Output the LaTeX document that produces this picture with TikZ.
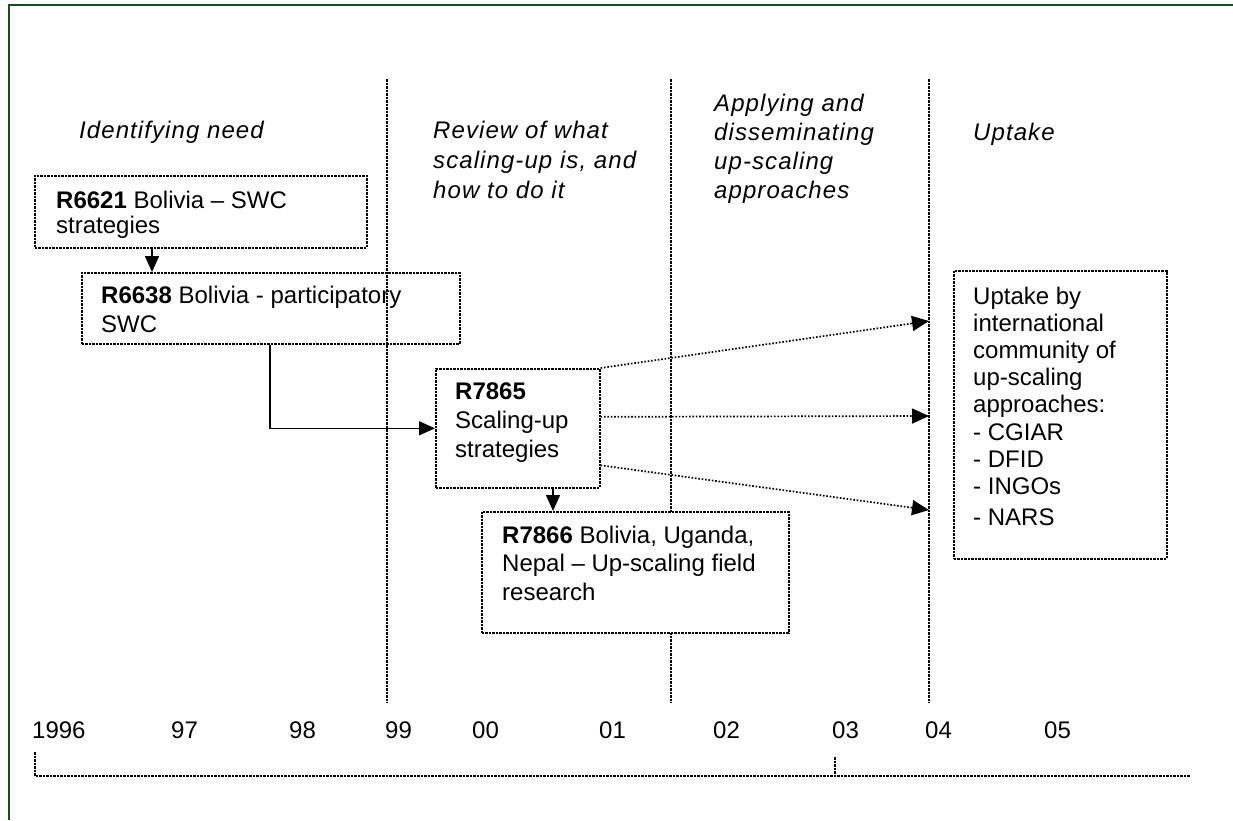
\documentclass[tikz,border=0pt]{standalone}
\usepackage{fontspec}
\setmainfont{Liberation Sans}
\newfontfamily\headfont[LetterSpace=4.5]{Liberation Sans}
\usetikzlibrary{arrows.meta}
\definecolor{framegreen}{RGB}{30,75,30}
\newcommand{\mylines}[1]{\begin{tabular}[t]{@{}l@{}}#1\end{tabular}}
\begin{document}
\begin{tikzpicture}[x=1pt,y=-1pt,
  every node/.style={font=\fontsize{24}{28}\selectfont, inner sep=0pt},
  frameline/.style={draw=framegreen, line width=2pt},
  divider/.style={draw=black, line width=1.6pt, dash pattern=on 2.5pt off 1pt},
  pbox/.style={draw=black, line width=1.6pt, dash pattern=on 2.5pt off 1pt, rectangle, anchor=north west, inner sep=0pt},
  txt/.style={anchor=base west},
  head/.style={anchor=base west},
  solidarrow/.style={draw=black, line width=1.5pt, -{Triangle[length=16pt,width=14pt]}},
  dotarrow/.style={draw=black, line width=1.7pt, dash pattern=on 1.6pt off 1.8pt, -{Triangle[length=17pt,width=15pt]}},
]
\useasboundingbox (0,0) rectangle (1233,820);
% frame
\draw[frameline] (9,820) -- (9,5) -- (1233,5);

% dividers
\coordinate (d1t) at (387,79); \coordinate (d1b) at (387,703);
\coordinate (d2t) at (671,79); \coordinate (d2b) at (671,703);
\coordinate (d3t) at (929,79); \coordinate (d3b) at (929,703);
\draw[divider] (d1t) -- (d1b);
\draw[divider] (d2t) -- (d2b);
\draw[divider] (d3t) -- (d3b);

% headings
\node[head, font=\fontsize{24}{30}\selectfont\headfont\itshape] (h1) at (79,138) {Identifying need};
\node[head, font=\fontsize{24}{30}\selectfont\headfont\itshape] (h2) at (433,138) {\mylines{Review of what\\scaling-up is, and\\how to do it}};
\node[head, font=\fontsize{24}{29}\selectfont\headfont\itshape] (h3) at (714,111) {\mylines{Applying and\\disseminating\\up-scaling\\approaches}};
\node[head, font=\fontsize{24}{30}\selectfont\headfont\itshape] (h4) at (973,140) {Uptake};

% boxes
\node[pbox, minimum width=332pt, minimum height=72pt] (r6621) at (34,175) {};
\node[pbox, minimum width=378pt, minimum height=71pt] (r6638) at (81,272) {};
\node[pbox, minimum width=164pt, minimum height=119pt] (r7865) at (435,368) {};
\node[pbox, fill=white, minimum width=307pt, minimum height=121pt] (r7866) at (481,511) {};
\node[pbox, minimum width=213pt, minimum height=288pt] (up) at (953,270) {};

% box texts
\node[txt, font=\fontsize{24}{25}\selectfont] (t6621) at (56,208) {\mylines{\textbf{R6621} Bolivia -- SWC\\strategies}};
\node[txt, font=\fontsize{24}{29}\selectfont] (t6638) at (101,303) {\mylines{\textbf{R6638} Bolivia - participatory\\SWC}};
\node[txt, font=\fontsize{24}{29}\selectfont] (t7865) at (455,399) {\mylines{\textbf{R7865}\\Scaling-up\\strategies}};
\node[txt, font=\fontsize{24}{28.5}\selectfont] (t7866) at (502,543) {\mylines{\textbf{R7866} Bolivia, Uganda,\\Nepal -- Up-scaling field\\research}};
\node[txt, font=\fontsize{24}{27.2}\selectfont] (tup) at (973,304) {\mylines{Uptake by\\international\\community of\\up-scaling\\approaches:\\- CGIAR\\- DFID\\- INGOs\\[4pt]- NARS}};

% connectors
\coordinate (a1) at (152,0);
\coordinate (e1) at (270,0);
\coordinate (a2) at (553,0);
\draw[solidarrow] (r6621.south -| a1) -- (r6638.north -| a1);
\draw[solidarrow] (r6638.south -| e1) |- (r7865.west);
\draw[solidarrow] (r7865.south -| a2) -- (r7866.north -| a2);

\coordinate (p1) at (929,321);
\coordinate (p2) at (929,416);
\coordinate (p3) at (929,510);
\draw[dotarrow] (r7865.north east) -- (p1);
\draw[dotarrow] ([yshift=11.5pt]r7865.east) -- (p2);
\draw[dotarrow] ([yshift=-37pt]r7865.east) -- (p3);

% timeline
\node[txt] (y96) at (32,738) {1996};
\node[txt] (y97) at (171,738) {97};
\node[txt] (y98) at (289,738) {98};
\node[txt] (y99) at (385,738) {99};
\node[txt] (y00) at (472,738) {00};
\node[txt] (y01) at (599,738) {01};
\node[txt] (y02) at (713,738) {02};
\node[txt] (y03) at (832,738) {03};
\node[txt] (y04) at (925,738) {04};
\node[txt] (y05) at (1044,738) {05};
\coordinate (tl0) at (35,752);
\coordinate (tl1) at (35,776);
\coordinate (tl2) at (1190,776);
\coordinate (tk0) at (835,757);
\coordinate (tk1) at (835,776);
\draw[divider] (tl0) -- (tl1) -- (tl2);
\draw[divider] (tk0) -- (tk1);
\end{tikzpicture}
\end{document}
